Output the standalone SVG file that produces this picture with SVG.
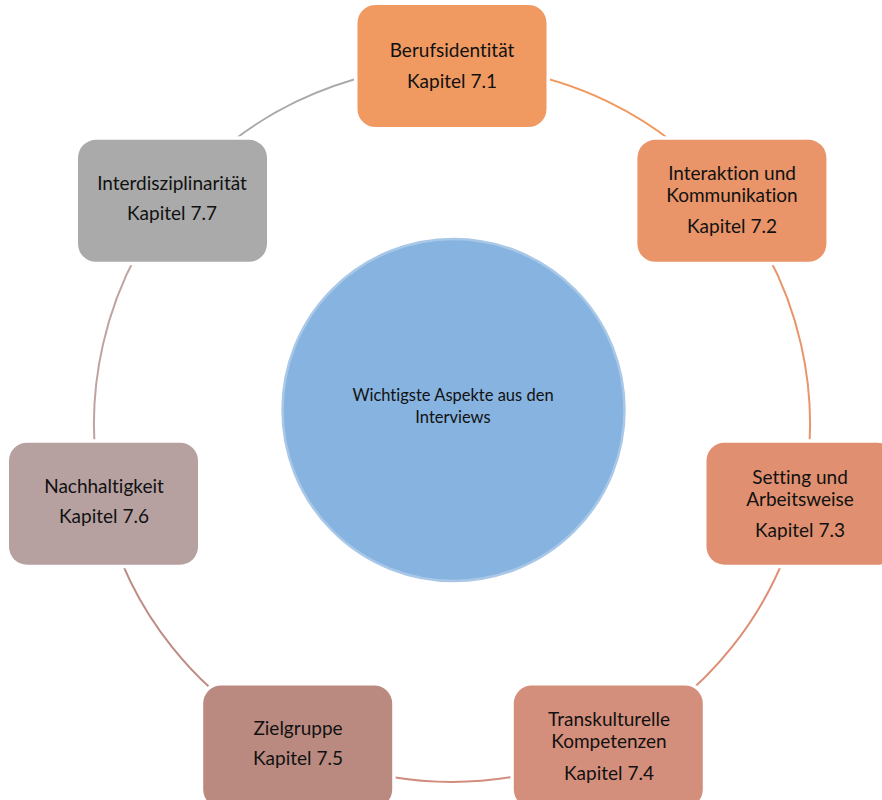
<svg xmlns="http://www.w3.org/2000/svg" width="882" height="800" viewBox="0 0 882 800">
<style>
.box{stroke:#fff;stroke-width:7;paint-order:stroke}
.arc{fill:none;stroke-width:2}
.t{font-family:Lato,"Liberation Sans",sans-serif;font-size:19px;fill:#111;text-anchor:middle;font-variant-ligatures:none}
.c{font-family:Lato,"Liberation Sans",sans-serif;font-size:16.5px;fill:#111;text-anchor:middle;font-variant-ligatures:none}
</style>
<rect width="882" height="800" fill="#fff"/>
<g id="connectors">
<path class="arc" stroke="#F0995F" d="M452,66 A358,358 0 0 1 731.9,200.8"/>
<path class="arc" stroke="#E9946A" d="M731.9,200.8 A358,358 0 0 1 801,503.7"/>
<path class="arc" stroke="#DD8E74" d="M801,503.7 A358,358 0 0 1 607.3,746.5"/>
<path class="arc" stroke="#D28C7E" d="M607.3,746.5 A358,358 0 0 1 296.7,746.5"/>
<path class="arc" stroke="#BE8C85" d="M296.7,746.5 A358,358 0 0 1 103,503.7"/>
<path class="arc" stroke="#BFA3A3" d="M103,503.7 A358,358 0 0 1 172.1,200.8"/>
<path class="arc" stroke="#A9A9A9" d="M172.1,200.8 A358,358 0 0 1 452,66"/>
</g>
<g id="center">
<circle cx="453.5" cy="410" r="171" fill="#86B3DF" stroke="#A9C8E8" stroke-width="2.5"/>
<text class="c" x="453" y="401">Wichtigste Aspekte aus den</text>
<text class="c" x="453" y="423">Interviews</text>
</g>
<g id="n1">
<rect class="box" x="357.5" y="5" width="189" height="122" rx="18" fill="#F09A62"/>
<text class="t" x="452" y="57">Berufsidentität</text>
<text class="t" x="452" y="88">Kapitel 7.1</text>
</g>
<g id="n2">
<rect class="box" x="637.4" y="139.8" width="189" height="122" rx="18" fill="#E99469"/>
<text class="t" x="732" y="180">Interaktion und</text>
<text class="t" x="732" y="202">Kommunikation</text>
<text class="t" x="732" y="233">Kapitel 7.2</text>
</g>
<g id="n3">
<rect class="box" x="706.5" y="442.7" width="189" height="122" rx="18" fill="#E09070"/>
<text class="t" x="800" y="484">Setting und</text>
<text class="t" x="800" y="506">Arbeitsweise</text>
<text class="t" x="800" y="537">Kapitel 7.3</text>
</g>
<g id="n4">
<rect class="box" x="513.8" y="685.5" width="189" height="122" rx="18" fill="#D48F7C"/>
<text class="t" x="609" y="726">Transkulturelle</text>
<text class="t" x="609" y="748">Kompetenzen</text>
<text class="t" x="609" y="780">Kapitel 7.4</text>
</g>
<g id="n5">
<rect class="box" x="203.2" y="685.5" width="189" height="122" rx="18" fill="#BA8A80"/>
<text class="t" x="298" y="735">Zielgruppe</text>
<text class="t" x="298" y="765">Kapitel 7.5</text>
</g>
<g id="n6">
<rect class="box" x="9" y="442.7" width="189" height="122" rx="18" fill="#B6A0A0"/>
<text class="t" x="104" y="493">Nachhaltigkeit</text>
<text class="t" x="104" y="523">Kapitel 7.6</text>
</g>
<g id="n7">
<rect class="box" x="78" y="139.8" width="189" height="122" rx="18" fill="#AAAAAA"/>
<text class="t" x="172" y="190">Interdisziplinarität</text>
<text class="t" x="172" y="220">Kapitel 7.7</text>
</g>
</svg>
